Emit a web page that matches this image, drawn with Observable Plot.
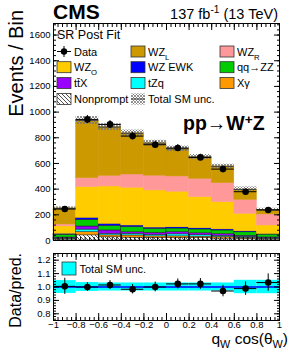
<!DOCTYPE html>
<html><head><meta charset="utf-8">
<script src="https://cdn.jsdelivr.net/npm/d3@7"></script>
<script src="https://cdn.jsdelivr.net/npm/@observablehq/plot@0.6"></script>
<style>
body{margin:0;background:#fff;}
#chart{position:relative;width:291px;height:352px;}
#chart svg{position:absolute;left:0;overflow:visible;}
</style></head><body><div id="chart"></div>
<script>
const FONT = "'Liberation Sans', Arial, Helvetica, sans-serif";

// ---- data ----
const edges = [-1, -0.8, -0.6, -0.4, -0.2, 0, 0.2, 0.4, 0.6, 0.8, 1];
const seriesNames  = ["Nonprompt", "Xγ", "tZq", "ttX", "qq→ZZ", "WZ EWK", "WZ_O", "WZ_R", "WZ_L"];
const seriesColors = ["url(#hatchNP)", "#ff9900", "#00ffff", "#9900ff", "#00cc00", "#0000ff", "#ffcc00", "#ff9999", "#cc9900"];
const nonprompt = [8, 40, 25, 22, 20, 18, 18, 15, 12, 8];
const xgamma    = [6, 25, 15, 17, 12, 14, 12, 12, 9, 6];
const tzq       = [4, 20, 12, 13, 12, 16, 12, 10, 8, 5];
const ttx       = [5, 24, 26, 12, 16, 17, 14, 13, 8, 5];
const qqzz      = [22, 50, 35, 40, 31, 28, 30, 28, 27, 22];
const wzEWK     = [8, 18, 17, 13, 10, 10, 10, 9, 8, 5];
const wzO       = [57, 239, 291, 294, 289, 277, 242, 212, 136, 66];
const wzR       = [15, 70, 83, 103, 115, 119, 143, 148, 109, 86];
const wzL       = [125, 449, 379, 321, 253, 215, 169, 130, 80, 36];
const dataCounts = [245, 943, 904, 813, 746, 720, 647, 556, 380, 238];
const dataErr    = [16, 31, 30, 29, 27, 27, 25, 24, 19, 15];
const ratioVals  = [1.005, 1.0, 1.015, 0.983, 1.0, 1.023, 1.023, 0.97, 0.988, 1.033];
const ratioErr   = [0.06, 0.033, 0.033, 0.035, 0.036, 0.037, 0.04, 0.043, 0.05, 0.065];
const totalUnc   = [0.048, 0.033, 0.03, 0.03, 0.03, 0.03, 0.03, 0.03, 0.05, 0.05];
const yMajor = [0, 200, 400, 600, 800, 1000, 1200, 1400, 1600];
const rMajor = [0.8, 0.9, 1.0, 1.1, 1.2];
const xMajor = [-1, -0.8, -0.6, -0.4, -0.2, 0, 0.2, 0.4, 0.6, 0.8, 1];
const xMinor = d3.range(-1, 1.0001, 0.04);
const yMinor = d3.range(0, 1690, 40);
const rMinor = d3.range(0.76, 1.2501, 0.02);
const smallSeries = new Set(["Nonprompt", "Xγ", "tZq", "ttX", "qq→ZZ", "WZ EWK"]);

const seriesValues = [nonprompt, xgamma, tzq, ttx, qqzz, wzEWK, wzO, wzR, wzL];
const bins = d3.range(10).map(i => ({
  x1: edges[i], x2: edges[i + 1], xc: (edges[i] + edges[i + 1]) / 2,
  total: d3.sum(seriesValues, s => s[i]),
  data: dataCounts[i], err: dataErr[i],
  ratio: ratioVals[i], rerr: ratioErr[i], unc: totalUnc[i]
}));
const stackRows = bins.flatMap((b, i) => seriesNames.map((n, k) => ({
  x1: b.x1, x2: b.x2, y: seriesValues[k][i], s: n,
  fill: seriesColors[k], stroke: smallSeries.has(n) ? "#222" : seriesColors[k]
})));

const blank = () => "";
function frameTicks(majorY, minorY, fmt) {
  return [
    Plot.axisY({ticks: majorY, tickSize: -6, tickPadding: 9, label: null, tickFormat: fmt, fontSize: 9.5}),
    Plot.axisY({ticks: minorY, tickSize: -3, label: null, tickFormat: blank}),
    Plot.axisY({anchor: "right", ticks: majorY, tickSize: -6, label: null, tickFormat: blank}),
    Plot.axisY({anchor: "right", ticks: minorY, tickSize: -3, label: null, tickFormat: blank}),
    Plot.axisX({anchor: "top", ticks: xMajor, tickSize: -6, label: null, tickFormat: blank}),
    Plot.axisX({anchor: "top", ticks: xMinor, tickSize: -3, label: null, tickFormat: blank}),
    Plot.axisX({anchor: "bottom", ticks: xMinor, tickSize: -3, label: null, tickFormat: blank})
  ];
}

const topSvg = Plot.plot({
  width: 291, height: 245, marginLeft: 53, marginRight: 12, marginTop: 23, marginBottom: 5,
  style: {fontFamily: FONT, fontSize: "9.5px", background: "none", color: "black"},
  x: {domain: [-1, 1]},
  y: {domain: [0, 1690]},
  color: {type: "identity"},
  marks: [
    Plot.rectY(stackRows, {x1: "x1", x2: "x2", y: "y", fill: "fill", stroke: "stroke", strokeWidth: 0.5}),
    Plot.rect(bins, {x1: "x1", x2: "x2", y1: d => d.total * (1 - d.unc), y2: d => d.total * (1 + d.unc), fill: "url(#hatchUnc)"}),
    Plot.ruleY(bins, {y: "total", x1: "x1", x2: "x2", stroke: "#444", strokeWidth: 1}),
    Plot.ruleY(bins, {y: "data", x1: "x1", x2: "x2", stroke: "black", strokeWidth: 1}),
    Plot.ruleX(bins, {x: "xc", y1: d => d.data - d.err, y2: d => d.data + d.err, stroke: "black", strokeWidth: 1}),
    Plot.dot(bins, {x: "xc", y: "data", r: 3.3, fill: "black"}),
    ...frameTicks(yMajor, yMinor, d => d3.format("d")(d)),
    Plot.axisX({anchor: "bottom", ticks: xMajor, tickSize: -6, label: null, tickFormat: blank}),
    Plot.frame({stroke: "black"})
  ]
});
topSvg.style.top = "0px";

const ratioSvg = Plot.plot({
  width: 291, height: 107, marginLeft: 53, marginRight: 12, marginTop: 8, marginBottom: 32,
  style: {fontFamily: FONT, fontSize: "9.5px", background: "none", color: "black"},
  x: {domain: [-1, 1]},
  y: {domain: [0.75, 1.25]},
  marks: [
    Plot.rect(bins, {x1: "x1", x2: "x2", y1: d => 1 - d.unc, y2: d => 1 + d.unc, fill: "#00ffff"}),
    Plot.ruleY([1], {stroke: "#0000ff", strokeWidth: 1.5}),
    Plot.ruleY(bins, {y: "ratio", x1: "x1", x2: "x2", stroke: "black", strokeWidth: 1}),
    Plot.ruleX(bins, {x: "xc", y1: d => d.ratio - d.rerr, y2: d => d.ratio + d.rerr, stroke: "black", strokeWidth: 1}),
    Plot.dot(bins, {x: "xc", y: "ratio", r: 3.3, fill: "black"}),
    ...frameTicks(rMajor, rMinor, d => d3.format(".1f")(d)),
    Plot.axisX({anchor: "bottom", ticks: xMajor, tickSize: -7, tickPadding: 8, label: null, tickFormat: d => d3.format("~g")(d), fontSize: 9.5}),
    Plot.frame({stroke: "black"})
  ]
});
ratioSvg.style.top = "245px";

const chart = document.getElementById("chart");
chart.appendChild(topSvg);
chart.appendChild(ratioSvg);

// ---- patterns ----
const defs = d3.select(topSvg).insert("defs", ":first-child");
const pNP = defs.append("pattern").attr("id", "hatchNP").attr("patternUnits", "userSpaceOnUse").attr("width", 4).attr("height", 4);
pNP.append("rect").attr("width", 4).attr("height", 4).attr("fill", "white");
pNP.append("path").attr("d", "M-1,-1L5,5M-1,3L1,5M3,-1L5,1").attr("stroke", "#222").attr("stroke-width", 0.8);
const pU = defs.append("pattern").attr("id", "hatchUnc").attr("patternUnits", "userSpaceOnUse").attr("width", 3).attr("height", 3);
pU.append("path").attr("d", "M0,0L3,3M3,0L0,3").attr("stroke", "#777").attr("stroke-width", 0.8);

// ---- texts ----
function richText(g, parts, attrs) {
  const t = g.append("text").attr("font-family", FONT).attr("text-anchor", "start").attr("fill", "black");
  Object.entries(attrs).forEach(([k, v]) => t.attr(k, v));
  let shift = 0;
  parts.forEach(p => {
    const [str, mode] = Array.isArray(p) ? p : [p, 0];
    const ts = t.append("tspan").text(str);
    let target = 0;
    if (mode === "sub") { target = 4; ts.attr("font-size", "70%"); }
    if (mode === "sup") { target = -6; ts.attr("font-size", "70%"); }
    if (target - shift !== 0) ts.attr("dy", target - shift);
    shift = target;
  });
  return t;
}
const gt = d3.select(topSvg).append("g");
richText(gt, ["CMS"], {x: 53, y: 18.5, "font-size": 21, "font-weight": "bold"});
richText(gt, ["137 fb", ["-1", "sup"], " (13 TeV)"], {x: 278, y: 18.5, "font-size": 14.5, "text-anchor": "end"});
richText(gt, ["Events / Bin"], {transform: "translate(23,10) rotate(-90)", "font-size": 20, "text-anchor": "end"});
richText(gt, ["SR Post Fit"], {x: 57, y: 38.5, "font-size": 12.5});
richText(gt, ["pp→W", ["+", "sup"], "Z"], {x: 183, y: 130, "font-size": 19.5, "font-weight": "bold"});

// legend
const legendLabels = {
  "WZ_L": ["WZ", ["L", "sub"]], "WZ_R": ["WZ", ["R", "sub"]], "WZ_O": ["WZ", ["O", "sub"]],
  "WZ EWK": ["WZ EWK"], "qq→ZZ": ["qq→ZZ"], "ttX": ["tt\u0304X"], "tZq": ["tZq"], "Xγ": ["Xγ"], "Nonprompt": ["Nonprompt"]
};
const legendOrder = [["Data", "WZ_L", "WZ_R"], ["WZ_O", "WZ EWK", "qq→ZZ"], ["ttX", "tZq", "Xγ"], ["Nonprompt", "Total SM unc."]];
const colX = [57, 131, 220];
const rowY = [51.5, 67.2, 83, 99];
const LFS = 11;
const gl = d3.select(topSvg).append("g");
legendOrder.forEach((row, r) => row.forEach((name, c) => {
  const x = colX[c], y = rowY[r];
  if (name === "Data") {
    gl.append("line").attr("x1", x).attr("x2", x + 14).attr("y1", y).attr("y2", y).attr("stroke", "black");
    gl.append("line").attr("x1", x + 7).attr("x2", x + 7).attr("y1", y - 5.5).attr("y2", y + 5.5).attr("stroke", "black");
    gl.append("circle").attr("cx", x + 7).attr("cy", y).attr("r", 3.2).attr("fill", "black");
    richText(gl, ["Data"], {x: x + 17, y: y + 4, "font-size": LFS});
  } else if (name === "Total SM unc.") {
    gl.append("rect").attr("x", x).attr("y", y - 5.5).attr("width", 14).attr("height", 11).attr("fill", "url(#hatchUnc)");
    gl.append("line").attr("x1", x).attr("x2", x + 14).attr("y1", y).attr("y2", y).attr("stroke", "#444");
    richText(gl, ["Total SM unc."], {x: x + 17, y: y + 4, "font-size": LFS});
  } else {
    const k = seriesNames.indexOf(name);
    gl.append("rect").attr("x", x).attr("y", y - 5.5).attr("width", 14).attr("height", 11)
      .attr("fill", seriesColors[k]).attr("stroke", "#333").attr("stroke-width", 0.8);
    richText(gl, legendLabels[name], {x: x + 17, y: y + 4, "font-size": LFS});
  }
}));

// ratio texts
const gr = d3.select(ratioSvg).append("g");
gr.append("rect").attr("x", 62).attr("y", 17).attr("width", 14).attr("height", 13).attr("fill", "#00ffff").attr("stroke", "#333").attr("stroke-width", 0.8);
richText(gr, ["Total SM unc."], {x: 79.5, y: 27.5, "font-size": LFS});
richText(gr, ["Data/pred."], {transform: "translate(20.5,8) rotate(-90)", "font-size": 16, "text-anchor": "end"});
richText(gr, ["q", ["W", "sub"], " cos(θ", ["W", "sub"], ")"], {x: 288, y: 99, "font-size": 15.5, "text-anchor": "end"});
</script></body></html>
